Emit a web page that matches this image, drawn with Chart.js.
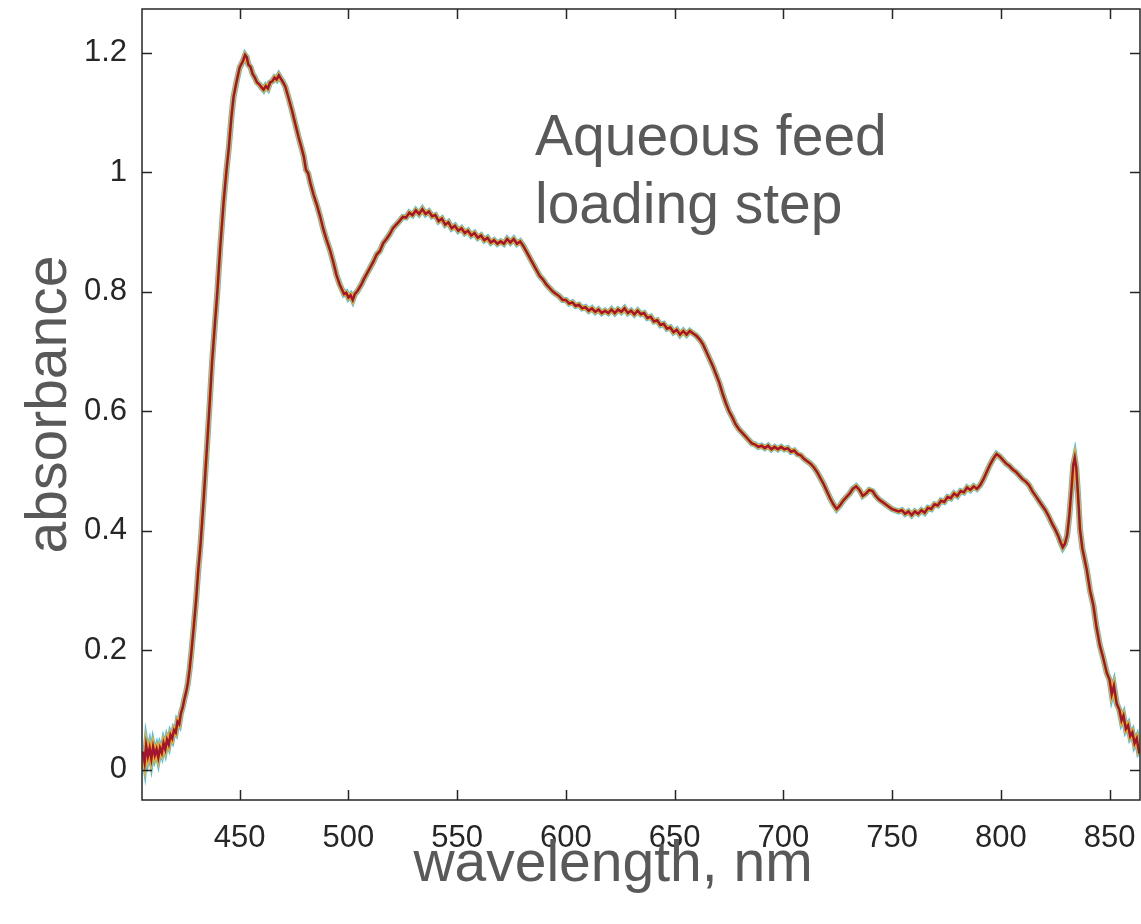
<!DOCTYPE html>
<html>
<head>
<meta charset="utf-8">
<script src="https://cdn.jsdelivr.net/npm/chart.js@4"></script>
<style>
  html, body { margin: 0; padding: 0; background: #fff; }
  #wrap { width: 1141px; height: 924px; }
</style>
</head>
<body>
<div id="wrap"><canvas id="spectrum"></canvas></div>
<script>
// absorbance spectra (repeat scans overlap almost exactly)
const wavelength = [
  405.5, 406.3, 407.0, 407.8, 408.6, 409.4, 410.2, 411.0, 411.8, 412.6, 413.4, 414.2, 415.0, 415.8,
  416.6, 417.4, 418.2, 419.0, 419.8, 420.6, 421.4, 422.2, 423.0, 423.8, 424.6, 425.4, 426.2, 427.0,
  427.8, 428.8, 430.0, 431.0, 432.0, 433.5, 435.0, 436.2, 437.3, 438.5, 439.6, 441.0, 442.6, 444.0,
  445.0, 446.2, 447.2, 448.5, 450.0, 451.5, 452.5, 453.3, 454.0, 455.0, 456.0, 457.0, 458.0, 459.0,
  460.0, 461.0, 462.0, 463.0, 464.0, 465.0, 466.0, 467.0, 468.0, 469.0, 470.0, 471.0, 472.5, 474.0,
  475.5, 477.0, 478.5, 479.5, 480.5, 481.5, 482.5, 484.0, 485.5, 487.0, 488.5, 490.0, 491.5, 493.0,
  494.5, 496.0, 497.0, 498.0, 499.0, 500.0, 501.0, 502.0, 503.0, 504.0, 505.0, 506.0, 507.0, 508.5,
  510.0, 511.5, 513.0, 514.5, 516.0, 517.5, 519.0, 520.5, 522.0, 523.5, 525.0, 526.5, 528.0, 529.5,
  531.0, 532.5, 534.0, 535.5, 537.0, 538.5, 540.0, 541.5, 543.0, 544.5, 546.0, 547.5, 549.0, 550.5,
  552.0, 553.5, 555.0, 556.5, 558.0, 559.5, 561.0, 562.5, 564.0, 565.5, 567.0, 568.5, 570.0, 571.5,
  573.0, 574.5, 576.0, 577.5, 579.0, 580.5, 582.0, 583.5, 585.0, 586.5, 588.0, 589.5, 591.0, 592.5,
  594.0, 595.5, 597.0, 598.5, 600.0, 601.5, 603.0, 604.5, 606.0, 607.5, 609.0, 610.5, 612.0, 613.5,
  615.0, 616.5, 618.0, 619.5, 621.0, 622.5, 624.0, 625.5, 627.0, 628.5, 630.0, 631.5, 633.0, 634.5,
  636.0, 637.5, 639.0, 640.5, 642.0, 643.5, 645.0, 646.5, 648.0, 649.5, 651.0, 652.5, 654.0, 655.5,
  657.0, 658.5, 660.0, 661.5, 663.0, 664.5, 666.0, 667.5, 669.0, 670.5, 672.0, 673.5, 675.0, 676.5,
  678.0, 679.5, 681.0, 682.5, 684.0, 685.5, 687.0, 688.5, 690.0, 691.5, 693.0, 694.5, 696.0, 697.5,
  699.0, 700.5, 702.0, 703.5, 705.0, 706.5, 708.0, 709.5, 711.0, 712.5, 714.0, 715.5, 717.0, 718.5,
  720.0, 721.5, 723.0, 724.5, 726.0, 727.5, 729.0, 730.5, 732.0, 733.5, 735.0, 736.5, 738.0, 739.5,
  741.0, 742.5, 744.0, 745.5, 747.0, 748.5, 750.0, 751.5, 753.0, 754.5, 756.0, 757.5, 759.0, 760.5,
  762.0, 763.5, 765.0, 766.5, 768.0, 769.5, 771.0, 772.5, 774.0, 775.5, 777.0, 778.5, 780.0, 781.5,
  783.0, 784.5, 786.0, 787.5, 789.0, 790.5, 792.0, 793.5, 795.0, 796.5, 798.0, 799.5, 801.0, 802.5,
  804.0, 805.5, 807.0, 808.5, 810.0, 811.5, 813.0, 814.5, 816.0, 817.5, 819.0, 820.5, 822.0, 823.5,
  825.0, 826.5, 827.5, 828.5, 829.5, 830.5, 831.5, 832.5, 833.3, 834.0, 834.7, 835.5, 836.4, 837.5,
  839.5, 841.0, 842.6, 844.0, 845.6, 847.0, 848.7, 850.0, 851.0, 852.0, 853.3, 854.5, 855.5, 856.4,
  857.5, 858.5, 859.5, 860.5, 861.5, 862.5, 863.5, 864.5
];
const absorbance = [
  0.030, 0.012, 0.040, 0.022, 0.036, 0.018, 0.038, 0.024, 0.034, 0.020, 0.036, 0.028, 0.044, 0.034,
  0.050, 0.042, 0.058, 0.052, 0.066, 0.062, 0.080, 0.076, 0.094, 0.104, 0.118, 0.130, 0.145, 0.168,
  0.196, 0.235, 0.285, 0.335, 0.376, 0.455, 0.541, 0.612, 0.681, 0.740, 0.792, 0.870, 0.949, 1.005,
  1.040, 1.092, 1.126, 1.150, 1.175, 1.186, 1.196, 1.192, 1.180, 1.176, 1.164, 1.158, 1.150, 1.147,
  1.142, 1.138, 1.144, 1.140, 1.150, 1.152, 1.158, 1.155, 1.162, 1.156, 1.150, 1.143, 1.124, 1.104,
  1.082, 1.060, 1.040, 1.026, 1.004, 0.998, 0.982, 0.962, 0.945, 0.926, 0.904, 0.886, 0.870, 0.850,
  0.828, 0.812, 0.804, 0.796, 0.798, 0.790, 0.794, 0.786, 0.796, 0.800, 0.806, 0.812, 0.820, 0.830,
  0.840, 0.850, 0.862, 0.868, 0.881, 0.888, 0.896, 0.906, 0.912, 0.918, 0.925, 0.924, 0.932, 0.928,
  0.936, 0.930, 0.938, 0.930, 0.934, 0.926, 0.928, 0.918, 0.922, 0.912, 0.916, 0.906, 0.910, 0.902,
  0.906, 0.898, 0.902, 0.894, 0.898, 0.890, 0.894, 0.886, 0.890, 0.882, 0.886, 0.880, 0.884, 0.880,
  0.888, 0.882, 0.888, 0.880, 0.884, 0.876, 0.866, 0.856, 0.846, 0.836, 0.826, 0.820, 0.812, 0.806,
  0.800, 0.796, 0.792, 0.786, 0.786, 0.780, 0.782, 0.776, 0.778, 0.772, 0.774, 0.768, 0.772, 0.766,
  0.770, 0.764, 0.768, 0.764, 0.770, 0.764, 0.770, 0.766, 0.772, 0.764, 0.768, 0.762, 0.768, 0.762,
  0.764, 0.756, 0.758, 0.750, 0.752, 0.744, 0.746, 0.738, 0.740, 0.732, 0.736, 0.728, 0.734, 0.728,
  0.734, 0.730, 0.726, 0.720, 0.712, 0.700, 0.688, 0.676, 0.662, 0.648, 0.630, 0.614, 0.600, 0.590,
  0.578, 0.570, 0.564, 0.558, 0.552, 0.546, 0.544, 0.540, 0.542, 0.538, 0.542, 0.536, 0.540, 0.536,
  0.540, 0.536, 0.538, 0.532, 0.534, 0.528, 0.526, 0.520, 0.516, 0.512, 0.506, 0.498, 0.488, 0.478,
  0.466, 0.454, 0.444, 0.436, 0.442, 0.450, 0.456, 0.462, 0.470, 0.474, 0.468, 0.458, 0.462, 0.468,
  0.466, 0.458, 0.452, 0.448, 0.444, 0.440, 0.436, 0.434, 0.432, 0.434, 0.428, 0.432, 0.426, 0.432,
  0.428, 0.434, 0.430, 0.438, 0.436, 0.444, 0.442, 0.450, 0.448, 0.456, 0.454, 0.462, 0.458, 0.466,
  0.464, 0.472, 0.468, 0.474, 0.470, 0.476, 0.486, 0.498, 0.510, 0.520, 0.528, 0.524, 0.518, 0.512,
  0.508, 0.502, 0.498, 0.492, 0.486, 0.482, 0.476, 0.466, 0.458, 0.450, 0.442, 0.434, 0.424, 0.412,
  0.402, 0.390, 0.380, 0.372, 0.378, 0.392, 0.425, 0.470, 0.510, 0.522, 0.505, 0.460, 0.402, 0.370,
  0.335, 0.300, 0.274, 0.238, 0.207, 0.188, 0.162, 0.150, 0.126, 0.140, 0.110, 0.100, 0.082, 0.090,
  0.068, 0.074, 0.056, 0.062, 0.044, 0.052, 0.030, 0.034
];
const xTicks = [450, 500, 550, 600, 650, 700, 750, 800, 850];
const yTicks = [0, 0.2, 0.4, 0.6, 0.8, 1, 1.2];

const FONT = '"Liberation Sans", Arial, sans-serif';
const points = wavelength.map((w, i) => ({ x: w, y: absorbance[i] }));

// frame with inward ticks on all four sides, plus the free text
const framePlugin = {
  id: 'frame',
  afterDraw(chart) {
    const { ctx, chartArea: a, scales: { x, y } } = chart;
    ctx.save();
    ctx.strokeStyle = '#262626';
    ctx.lineWidth = 1.5;
    ctx.strokeRect(a.left, a.top, a.right - a.left, a.bottom - a.top);
    ctx.beginPath();
    xTicks.forEach(v => {
      const px = Math.round(x.getPixelForValue(v)) + 0.5;
      ctx.moveTo(px, a.bottom); ctx.lineTo(px, a.bottom - 10);
      ctx.moveTo(px, a.top); ctx.lineTo(px, a.top + 10);
    });
    yTicks.forEach(v => {
      const py = Math.round(y.getPixelForValue(v)) + 0.5;
      ctx.moveTo(a.left, py); ctx.lineTo(a.left + 10, py);
      ctx.moveTo(a.right, py); ctx.lineTo(a.right - 10, py);
    });
    ctx.stroke();

    ctx.fillStyle = '#595959';
    ctx.font = '57px ' + FONT;
    ctx.textBaseline = 'alphabetic';
    ctx.textAlign = 'left';
    ctx.fillText('Aqueous feed', 535, 155);
    ctx.fillText('loading step', 535, 223);
    ctx.textAlign = 'center';
    ctx.fillText('wavelength, nm', 613, 881);
    ctx.restore();
  }
};

const noPadding = s => {
  s.paddingLeft = 0; s.paddingRight = 0; s.paddingTop = 0; s.paddingBottom = 0;
};

const scan = (color, width) => ({
  data: points,
  borderColor: color,
  borderWidth: width,
  pointRadius: 0,
  tension: 0,
  fill: false
});

new Chart(document.getElementById('spectrum'), {
  type: 'line',
  data: {
    datasets: [
      scan('#A2142F', 2.5),
      scan('#EDB120', 4.5),
      scan('#4DBEEE', 6)
    ]
  },
  options: {
    responsive: true,
    maintainAspectRatio: false,
    animation: false,
    layout: { padding: { top: 9, right: 1, left: 0, bottom: 0 } },
    plugins: { legend: { display: false }, tooltip: { enabled: false } },
    scales: {
      x: {
        type: 'linear',
        min: 405.1,
        max: 864,
        grid: { display: false },
        border: { display: false },
        afterBuildTicks: s => { s.ticks = xTicks.map(v => ({ value: v })); },
        afterFit: s => { s.height = 124; noPadding(s); },
        ticks: {
          color: '#262626',
          font: { family: FONT, size: 31 },
          padding: 12,
          maxRotation: 0,
          callback: v => String(v)
        }
      },
      y: {
        min: -0.051,
        max: 1.273,
        grid: { display: false },
        border: { display: false },
        afterBuildTicks: s => { s.ticks = yTicks.map(v => ({ value: v })); },
        afterFit: s => { s.width = 142; noPadding(s); },
        ticks: {
          color: '#262626',
          font: { family: FONT, size: 31 },
          padding: 7,
          callback: v => String(v)
        },
        title: {
          display: true,
          text: 'absorbance',
          color: '#595959',
          font: { family: FONT, size: 57, lineHeight: 1.2 },
          padding: { top: 16, bottom: 0 }
        }
      }
    }
  },
  plugins: [framePlugin]
});
</script>
</body>
</html>
